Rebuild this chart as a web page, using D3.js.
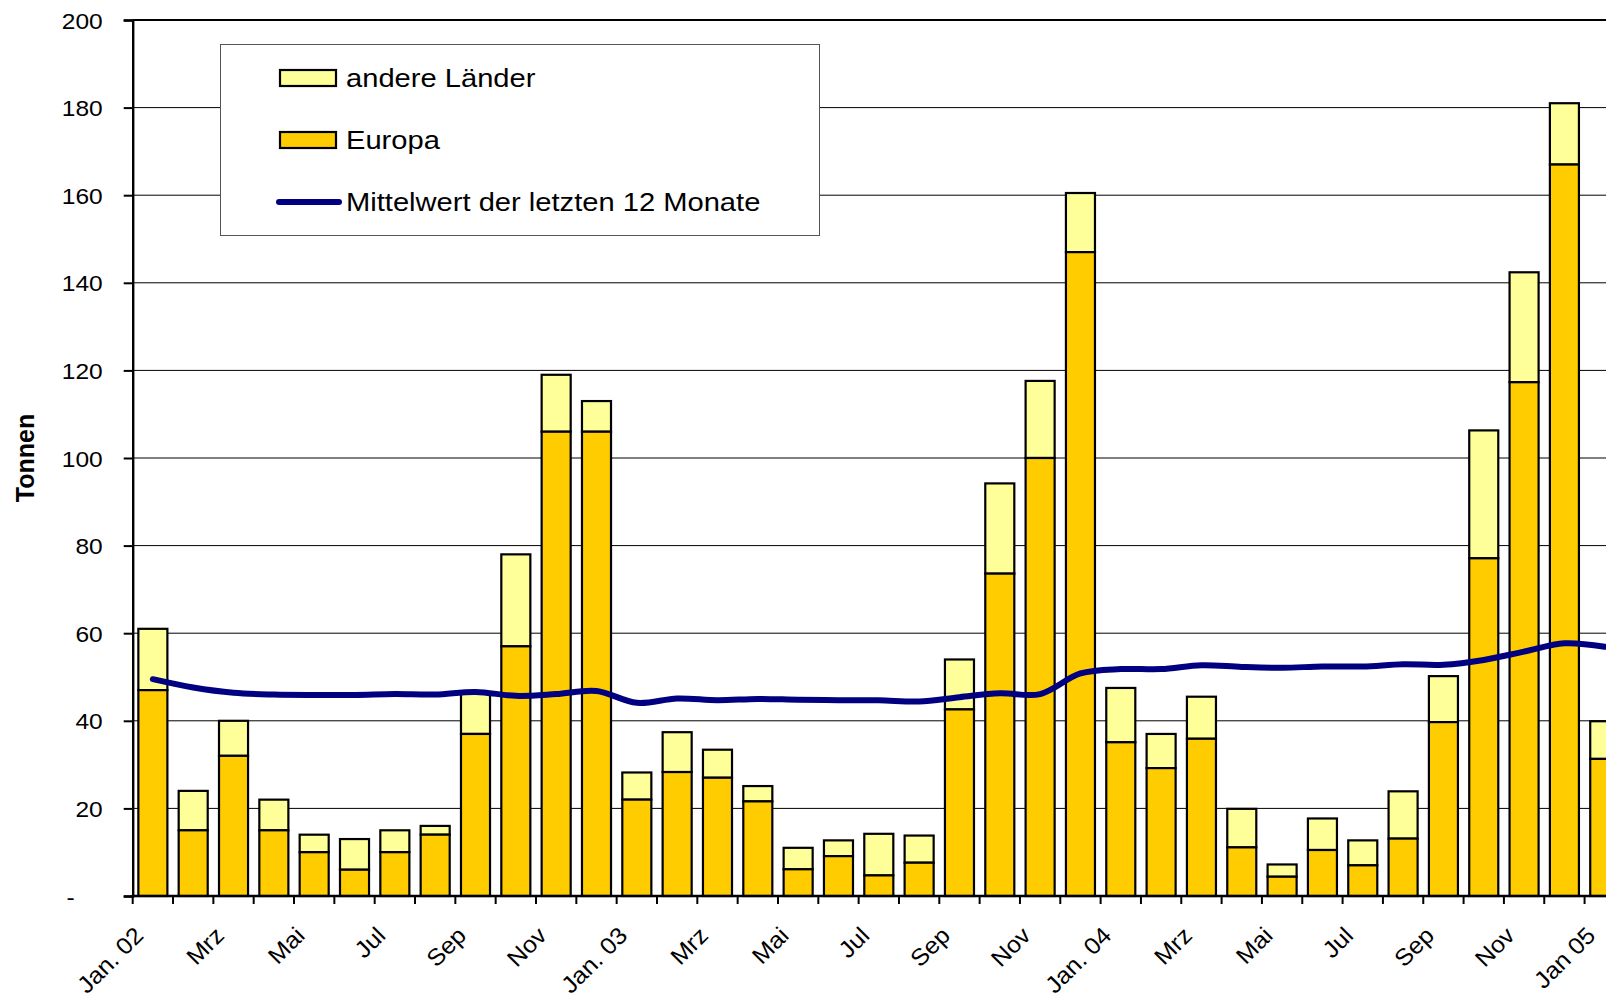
<!DOCTYPE html>
<html lang="de">

<head>
  <meta charset="UTF-8" />
  <title>Tonnen je Monat</title>
  <script src="https://d3js.org/d3.v7.min.js"></script>
  <style>
    * {
      margin: 0;
      padding: 0;
    }

    body {
      background: #fff;
      overflow: hidden;
    }

    svg text {
      font-family: "Liberation Sans", Arial, sans-serif;
      fill: #000;
    }
  </style>
</head>

<body>
  <script>
    // months Jan 02 .. Jan 05
    const months = ['Jan. 02', 'Feb', 'Mrz', 'Apr', 'Mai', 'Jun', 'Jul', 'Aug', 'Sep', 'Okt', 'Nov', 'Dez',
      'Jan. 03', 'Feb', 'Mrz', 'Apr', 'Mai', 'Jun', 'Jul', 'Aug', 'Sep', 'Okt', 'Nov', 'Dez',
      'Jan. 04', 'Feb', 'Mrz', 'Apr', 'Mai', 'Jun', 'Jul', 'Aug', 'Sep', 'Okt', 'Nov', 'Dez',
      'Jan 05'];

    const europa = [47, 15, 32, 15, 10, 6, 10, 14, 37, 57, 106, 106,
      22, 28.3, 27, 21.6, 6.1, 9.1, 4.7, 7.6, 42.6, 73.6, 100, 147,
      35.1, 29.2, 35.9, 11.1, 4.4, 10.5, 7, 13.1, 39.7, 77.1, 117.3, 167,
      31.3];

    const gesamt = [61, 24, 40, 22, 14, 13, 15, 16, 46.3, 78, 119, 113,
      28.2, 37.4, 33.4, 25.1, 11, 12.7, 14.2, 13.8, 54, 94.2, 117.6, 160.5,
      47.5, 37, 45.5, 19.9, 7.2, 17.7, 12.7, 23.9, 50.2, 106.3, 142.4, 181,
      39.9];

    const mittelwert = [49.5, 47.6, 46.4, 46, 45.9, 45.9, 46.1, 46, 46.6, 45.7, 46.1, 46.8,
      44.1, 45.1, 44.7, 45, 44.8, 44.7, 44.7, 44.4, 45.4, 46.3, 46.1, 50.8,
      51.8, 51.8, 52.7, 52.3, 52.1, 52.4, 52.4, 52.9, 52.8, 53.9, 55.8, 57.7,
      56.9];

    const yTicks = [0, 20, 40, 60, 80, 100, 120, 140, 160, 180, 200];

    const legendItems = ['andere Länder', 'Europa', 'Mittelwert der letzten 12 Monate'];

    const [w, h] = [1606, 1005];
    const plotLeft = 132.7, plotTop = 20, plotBottom = 896, step = 40.33;
    const colEuropa = '#FFCC00', colAndere = '#FFFF99', colLine = '#000080';

    // the original picture is a little wider than tall, so stretch text sideways
    function stretch(sel, k) {
      sel.each(function () {
        const len = this.getComputedTextLength();
        d3.select(this)
          .attr('textLength', len * k)
          .attr('lengthAdjust', 'spacingAndGlyphs');
      });
    }

    const svg = d3.select('body').append('svg')
      .attr('width', w)
      .attr('height', h);

    const x = d3.scaleBand()
      .domain(d3.range(months.length))
      .range([plotLeft, plotLeft + step * months.length])
      .paddingInner(0.28)
      .paddingOuter(0.14);

    const y = d3.scaleLinear()
      .domain([0, 200])
      .range([plotBottom, plotTop]);

    // gridlines
    svg.append('g')
      .selectAll('line')
      .data(yTicks.slice(1, -1))
      .join('line')
      .attr('x1', plotLeft)
      .attr('x2', w)
      .attr('y1', d => y(d))
      .attr('y2', d => y(d))
      .attr('stroke', '#000')
      .attr('stroke-width', 1);

    // top border of plot area
    svg.append('line')
      .attr('x1', plotLeft).attr('x2', w)
      .attr('y1', y(200)).attr('y2', y(200))
      .attr('stroke', '#000')
      .attr('stroke-width', 2);

    // legend box (drawn under the bars, above gridlines)
    const legend = svg.append('g');
    legend.append('rect')
      .attr('x', 220.5).attr('y', 44.5)
      .attr('width', 599).attr('height', 191)
      .attr('fill', '#fff')
      .attr('stroke', '#555')
      .attr('stroke-width', 1);

    // bars
    const bars = svg.append('g');
    bars.selectAll('rect.andere')
      .data(gesamt)
      .join('rect')
      .attr('class', 'andere')
      .attr('x', (d, i) => x(i))
      .attr('width', x.bandwidth())
      .attr('y', d => y(d))
      .attr('height', (d, i) => y(europa[i]) - y(d))
      .attr('fill', colAndere)
      .attr('stroke', '#000')
      .attr('stroke-width', 2.2);

    bars.selectAll('rect.europa')
      .data(europa)
      .join('rect')
      .attr('class', 'europa')
      .attr('x', (d, i) => x(i))
      .attr('width', x.bandwidth())
      .attr('y', d => y(d))
      .attr('height', d => y(0) - y(d))
      .attr('fill', colEuropa)
      .attr('stroke', '#000')
      .attr('stroke-width', 2.2);

    // 12-month mean line
    const line = d3.line()
      .x((d, i) => x(i) + x.bandwidth() / 2)
      .y(d => y(d))
      .curve(d3.curveCatmullRom.alpha(0.5));

    svg.append('path')
      .datum(mittelwert)
      .attr('d', line)
      .attr('fill', 'none')
      .attr('stroke', colLine)
      .attr('stroke-width', 6)
      .attr('stroke-linecap', 'round');

    // y axis
    const yAxis = d3.axisLeft(y)
      .tickValues(yTicks)
      .tickSize(9)
      .tickPadding(0)
      .tickFormat(d => d === 0 ? '-' : d);

    const gy = svg.append('g')
      .attr('transform', `translate(${plotLeft}, 0)`)
      .call(yAxis);
    gy.select('.domain').attr('stroke-width', 2.4);
    gy.selectAll('.tick line').attr('stroke-width', 2);
    gy.selectAll('.tick text')
      .attr('x', d => d === 0 ? -58 : -30)
      .attr('dy', '0.36em')
      .style('font-family', '"Liberation Sans", Arial, sans-serif')
      .style('font-size', '22.5px')
      .call(stretch, 1.09);

    // x axis: ticks between categories, labels on every second month
    const xTickScale = d3.scaleLinear()
      .domain([0, months.length])
      .range([plotLeft, plotLeft + step * months.length]);

    const gx = svg.append('g')
      .attr('transform', `translate(0, ${plotBottom})`);
    gx.append('line')
      .attr('x1', plotLeft - 1).attr('x2', w)
      .attr('stroke', '#000')
      .attr('stroke-width', 2.5);
    gx.selectAll('line.tick')
      .data(d3.range(months.length + 1))
      .join('line')
      .attr('class', 'tick')
      .attr('x1', d => xTickScale(d))
      .attr('x2', d => xTickScale(d))
      .attr('y1', 0)
      .attr('y2', 8)
      .attr('stroke', '#000')
      .attr('stroke-width', 2);

    gx.selectAll('text')
      .data(months.map((m, i) => [m, i]).filter(d => d[1] % 2 === 0))
      .join('text')
      .attr('text-anchor', 'end')
      .attr('transform', d => `translate(${x(d[1]) + x.bandwidth() / 2 - 8}, 41) rotate(-45)`)
      .style('font-size', '23.5px')
      .text(d => d[0])
      .call(stretch, 1.06);

    // y axis title
    svg.append('text')
      .attr('transform', `translate(34, ${(plotTop + plotBottom) / 2}) rotate(-90)`)
      .attr('text-anchor', 'middle')
      .style('font-size', '25px')
      .style('font-weight', 'bold')
      .text('Tonnen');

    // legend entries
    const rowY = [78, 140, 202];
    legend.selectAll('rect.swatch')
      .data([colAndere, colEuropa])
      .join('rect')
      .attr('class', 'swatch')
      .attr('x', 280)
      .attr('y', (d, i) => rowY[i] - 8)
      .attr('width', 56)
      .attr('height', 16)
      .attr('fill', d => d)
      .attr('stroke', '#000')
      .attr('stroke-width', 2.2);

    legend.append('line')
      .attr('x1', 279).attr('x2', 339)
      .attr('y1', rowY[2]).attr('y2', rowY[2])
      .attr('stroke', colLine)
      .attr('stroke-width', 6)
      .attr('stroke-linecap', 'round');

    legend.selectAll('text')
      .data(legendItems)
      .join('text')
      .attr('x', 346)
      .attr('y', (d, i) => rowY[i])
      .attr('dy', '0.36em')
      .style('font-size', '26px')
      .text(d => d)
      .call(stretch, 1.12);
  </script>
</body>

</html>
